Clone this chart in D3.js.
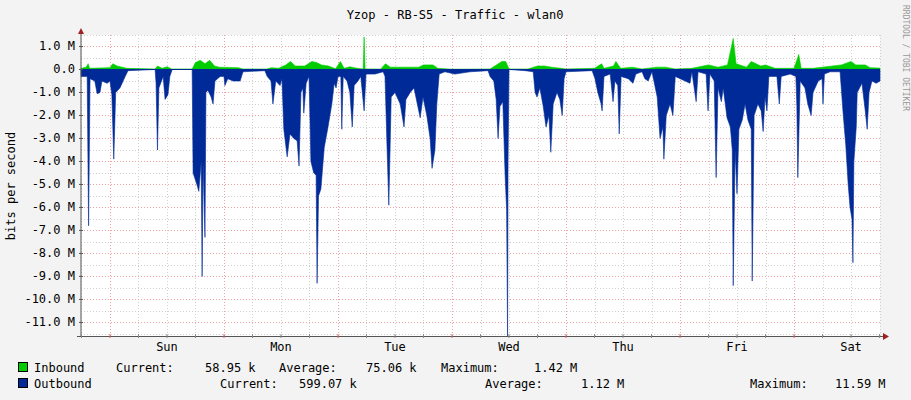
<!DOCTYPE html>
<html><head><meta charset="utf-8">
<script src="https://cdn.jsdelivr.net/npm/d3@7"></script>
<style>body{margin:0;background:#f3f3f3}text{font-family:"DejaVu Sans Mono",monospace;font-size:12px;fill:#000}</style>
</head><body><svg id="c" width="911" height="400"></svg>
<script>
const dayLabels=["Sun","Mon","Tue","Wed","Thu","Fri","Sat"];
const yTicks=[1,0,-1,-2,-3,-4,-5,-6,-7,-8,-9,-10,-11];
const outT=[-6.1,-4.8,-4.5,-4.2,-3.2,-2.7,-2.1,-1.7,-0.6,0,0.4,0.8,1.2,2.1,3.2,3.8,9.5,9.7,10,10.3,11.2,11.6,12.2,12.6,13.1,17.3,17.5,18.3,18.7,19.2,19.4,19.6,20,20.2,20.6,21.3,21.7,22.1,23.2,24,24.2,24.8,25.9,27.4,28,32.6,33.1,33.9,34.3,34.9,35.8,36.2,36.6,37.3,37.9,38.7,39.4,39.8,40.2,40.6,40.8,41.3,41.9,42.3,42.9,43.4,43.6,43.9,44.4,45.1,45.9,46.7,47.2,47.6,48,48.6,48.8,49.1,49.9,50.5,51,51.4,52.2,52.8,53.5,53.9,55.8,57.5,57.9,58.3,58.7,59.2,60,61.1,61.9,62.3,63.2,64,65.3,65.9,66.7,67.4,67.8,68.4,68.8,69.3,70.5,72.6,75.8,79.6,80,80.8,81.3,81.7,82.1,82.7,83.2,83.5,83.7,83.8,84,87.4,89.1,89.5,89.9,90.5,91.2,91.8,92.4,92.8,93.3,94.1,94.7,95.2,95.6,96,101.5,102.1,102.7,103.4,103.6,104,105.3,105.9,106.3,106.9,107.2,107.6,109.1,110.1,110.7,112,112.6,113.3,114.1,115.2,115.8,116.4,116.6,117.1,117.9,118.5,119,122.1,122.5,123.4,123.8,125.5,125.9,126.3,127.2,127.6,128,128.7,129.1,129.9,130.6,131,131.2,131.6,132,132.4,133.1,133.7,134.3,135,135.2,135.6,136.4,137.1,137.5,137.9,138.3,138.7,140.4,140.9,141.3,143.2,144.4,144.6,144.8,145.3,146.3,146.9,147.6,148,149.1,149.9,150.1,150.4,151.6,153.7,154.3,154.9,155.4,155.8,156.2,156.4,156.6,157.1,157.3,158.3,159,159.4,159.8,160.4,161.3,162.1];
const outV=[0.3,0.3,6.8,0.4,0.5,1.05,1.0,0.5,0.6,0.5,1.1,3.9,1.0,0.8,0.3,0.05,0,0.6,3.5,0.8,0.3,1.3,1.1,0.3,0,0,4.5,5.0,5.3,4.0,9.0,4.0,7.3,1.0,0.9,1.2,1.5,0.5,0.3,0.3,0.7,0.4,0.5,0.5,0.1,0.05,0.3,0.5,1.5,0.5,0.7,0.4,2.6,3.8,2.8,3.0,3.1,4.2,1.0,0.8,1.9,0.6,0.3,4.0,4.5,4.6,9.3,5.5,5.2,3.4,2.5,1.5,0.6,0.8,0.3,0.3,2.6,0.3,0.5,1.0,2.5,0.7,0.5,0.3,1.8,0.2,0.2,0.1,0.3,3.2,5.9,1.2,1.0,1.5,2.5,1.3,1.0,0.8,2.1,1.2,2.0,3.0,4.3,3.5,1.5,0.2,0.1,0.2,0.1,0.05,0.3,0.5,1.3,3.0,1.6,1.4,4.7,6.1,11.6,4.0,0,0.05,0.1,1.0,1.2,0.8,1.6,2.5,2.0,3.6,1.5,1.0,1.3,2.0,0.4,0.1,0.05,0.4,1.0,1.5,1.8,0.3,0.2,1.4,0.5,0.7,2.8,0.3,0.4,0.6,0.2,0.1,0.4,0.5,0.1,1.2,3.0,2.5,3.9,2.0,1.5,2.0,0.3,0.6,0.1,1.4,0.1,0.2,1.8,0.2,0.5,4.7,0.8,1.4,0.8,2.1,2.5,3.5,9.4,3.5,5.4,2.6,2.2,1.5,2.2,2.6,9.2,2.0,1.5,1.8,2.7,1.2,1.8,0.3,0.3,1.5,0.3,0.2,0.3,1.6,4.7,0.5,0.8,1.5,2.0,1.0,0.5,0.4,1.5,0.2,0.1,0.1,1.8,3.3,5.0,6.0,6.5,8.4,4.0,2.5,1.0,0.6,1.8,2.6,1.0,0.5,0.6,0.5];
const inT=[-6.1,-5,-4.6,-4.3,0,0.6,1.5,3.5,9.5,10,11,12,13,17.3,18,19,20,21,22,23,27,28,33,34,35.5,37,38,39,41,42.5,43.5,44.5,46,47.5,48.5,49.3,50.5,52,53.3,53.5,53.7,57,58,59,62,65,66,68,69,72,80,81,82.5,83.3,84,88,90,91.5,93,95,96,102,103.5,104,106,106.5,107.5,110,112,115,117,119,122.5,126,128,130,131.2,131.8,134,135,137,138,140,144,145,145.5,148,154,156,157,159,160,162.1];
const inV=[0.05,0.1,0.25,0.05,0.08,0.25,0.15,0.05,0.02,0.15,0.05,0.12,0.02,0.02,0.3,0.4,0.25,0.4,0.15,0.1,0.08,0.02,0.02,0.08,0.05,0.2,0.35,0.15,0.15,0.35,0.3,0.2,0.15,0.03,0.35,0.05,0.12,0.05,0.02,1.42,0.02,0.02,0.25,0.1,0.1,0.1,0.2,0.2,0.05,0.01,0.02,0.15,0.35,0.35,0.02,0.02,0.15,0.15,0.1,0.05,0.02,0.05,0.25,0.05,0.15,0.35,0.05,0.1,0.02,0.1,0.1,0.02,0.05,0.2,0.1,0.2,1.35,0.25,0.1,0.35,0.15,0.2,0.05,0.05,0.65,0.05,0.05,0.2,0.35,0.2,0.2,0.08,0.06];
const legendRows=[
 {name:"Inbound",color:"#00cc00",parts:[["Current:",116],["58.95 k",205],["Average:",279],["75.06 k",366],["Maximum:",441],["1.42 M",534]]},
 {name:"Outbound",color:"#002a97",parts:[["Current:",220],["599.07 k",299],["Average:",485],["1.12 M",581],["Maximum:",750],["11.59 M",835]]}];

const svg=d3.select("#c");
const L=81,R=880,T=35,B=336;
const x=d3.scaleLinear().domain([-6.1,162.1]).range([L,R]);
const y=d3.scaleLinear().domain([1.5,-11.59]).range([T,B]);
svg.append("rect").attr("x",L).attr("y",T).attr("width",R-L).attr("height",B-T).attr("fill","#fff");
const g=svg.append("g");
for(let h=-6;h<=162;h+=6){const X=Math.round(x(h))+0.5;g.append("line").attr("x1",X).attr("x2",X).attr("y1",T).attr("y2",B).attr("stroke",h%24===0?"#f0a0a0":"#d0d0d0").attr("stroke-dasharray","1,2");}
for(let v=1.5;v>=-11.5;v-=0.5){if(v===0)continue;const Y=Math.round(y(v))+0.5;g.append("line").attr("x1",L).attr("x2",R).attr("y1",Y).attr("y2",Y).attr("stroke",Number.isInteger(v)?"#f0a0a0":"#d0d0d0").attr("stroke-dasharray","1,2");}
const outData=outT.map((t,i)=>[t,outV[i]]), inData=inT.map((t,i)=>[t,inV[i]]);
svg.append("path").datum(outData).attr("fill","#002a97").attr("stroke","#002a97").attr("stroke-width",0.6).attr("d",d3.area().x(d=>x(d[0])).y0(y(0)).y1(d=>y(-d[1])));
svg.append("path").datum(inData).attr("fill","#00cc00").attr("stroke","#00cc00").attr("stroke-width",0.6).attr("d",d3.area().x(d=>x(d[0])).y0(y(0)).y1(d=>y(d[1])));
svg.append("line").attr("x1",L).attr("x2",R).attr("y1",y(0)).attr("y2",y(0)).attr("stroke","#002a97");
svg.append("line").attr("x1",L).attr("x2",L).attr("y1",30).attr("y2",B).attr("stroke","#555");
svg.append("line").attr("x1",L-4).attr("x2",R+6).attr("y1",B+0.5).attr("y2",B+0.5).attr("stroke","#555");
svg.append("path").attr("d",`M${L-3},34 L${L+3},34 L${L},28 Z`).attr("fill","#a02020");
svg.append("path").attr("d",`M${R+3},${B-3} L${R+3},${B+4} L${R+9},${B+0.5} Z`).attr("fill","#a02020");
yTicks.forEach(v=>{const Y=y(v);
 svg.append("line").attr("x1",L-2).attr("x2",L+2).attr("y1",Y).attr("y2",Y).attr("stroke","#555");
 svg.append("text").attr("x",L-6).attr("y",Y+4).attr("text-anchor","end").text(v===0?"0.0":v.toFixed(1)+" M");});
for(let h=-6;h<=162;h+=6){svg.append("line").attr("x1",x(h)).attr("x2",x(h)).attr("y1",B-2).attr("y2",B+2).attr("stroke",h%24===0?"#e06060":"#888");}
dayLabels.forEach((d,i)=>svg.append("text").attr("x",x(i*24+12)).attr("y",351).attr("text-anchor","middle").text(d));
svg.append("text").attr("x",455).attr("y",19).attr("text-anchor","middle").text("Yzop - RB-S5 - Traffic - wlan0");
svg.append("text").attr("transform","translate(15,186) rotate(-90)").attr("text-anchor","middle").text("bits per second");
svg.append("text").attr("transform","translate(903,5) rotate(90)").attr("style","font-size:8px;fill:#999").text("RRDTOOL / TOBI OETIKER");
legendRows.forEach((r,i)=>{const Y=372+i*16;
 svg.append("rect").attr("x",18.5).attr("y",Y-9.5).attr("width",9).attr("height",9).attr("fill",r.color).attr("stroke","#000");
 svg.append("text").attr("x",34).attr("y",Y).text(r.name);
 r.parts.forEach(p=>svg.append("text").attr("x",p[1]).attr("y",Y).text(p[0]));});
</script></body></html>
